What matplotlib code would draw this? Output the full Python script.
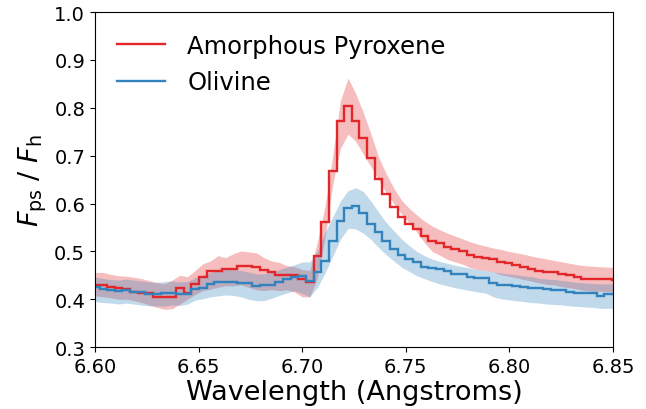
import numpy as np
import matplotlib
matplotlib.use("Agg")
import matplotlib.pyplot as plt

# ---- data ----
edge_start = 6.5985
bin_width = 0.00369
n_bins = 69

red_val = [0.430, 0.430, 0.425, 0.423, 0.421, 0.416, 0.414, 0.412, 0.405, 0.405,
           0.405, 0.423, 0.414, 0.432, 0.446, 0.460, 0.460, 0.464, 0.464, 0.470,
           0.470, 0.467, 0.462, 0.457, 0.450, 0.450, 0.450, 0.442, 0.437, 0.490,
           0.561, 0.668, 0.773, 0.804, 0.773, 0.736, 0.696, 0.651, 0.620, 0.592,
           0.571, 0.557, 0.547, 0.533, 0.522, 0.518, 0.510, 0.505, 0.500, 0.493,
           0.489, 0.487, 0.484, 0.478, 0.475, 0.472, 0.467, 0.464, 0.460, 0.457,
           0.456, 0.452, 0.450, 0.446, 0.443, 0.442, 0.443, 0.442, 0.441]
red_hi = [0.456, 0.456, 0.452, 0.449, 0.448, 0.446, 0.443, 0.439, 0.435, 0.432,
          0.440, 0.450, 0.447, 0.460, 0.474, 0.480, 0.491, 0.487, 0.495, 0.501,
          0.499, 0.497, 0.487, 0.480, 0.477, 0.470, 0.468, 0.462, 0.460, 0.520,
          0.595, 0.700, 0.815, 0.862, 0.830, 0.790, 0.745, 0.697, 0.662, 0.632,
          0.607, 0.590, 0.576, 0.563, 0.553, 0.545, 0.538, 0.532, 0.526, 0.520,
          0.515, 0.511, 0.507, 0.504, 0.500, 0.497, 0.494, 0.490, 0.487, 0.484,
          0.481, 0.478, 0.475, 0.472, 0.470, 0.469, 0.468, 0.467, 0.467]
red_lo = [0.407, 0.405, 0.403, 0.400, 0.400, 0.397, 0.393, 0.388, 0.383, 0.379,
          0.380, 0.390, 0.400, 0.410, 0.418, 0.421, 0.425, 0.428, 0.428, 0.430,
          0.425, 0.420, 0.418, 0.420, 0.418, 0.420, 0.415, 0.405, 0.405, 0.445,
          0.530, 0.640, 0.715, 0.745, 0.730, 0.703, 0.677, 0.650, 0.622, 0.600,
          0.578, 0.560, 0.540, 0.518, 0.500, 0.492, 0.483, 0.478, 0.473, 0.466,
          0.462, 0.460, 0.457, 0.451, 0.448, 0.445, 0.441, 0.438, 0.434, 0.431,
          0.430, 0.426, 0.424, 0.421, 0.418, 0.417, 0.417, 0.416, 0.415]

blue_val = [0.425, 0.421, 0.420, 0.418, 0.420, 0.416, 0.416, 0.411, 0.411, 0.414,
            0.414, 0.410, 0.410, 0.421, 0.423, 0.432, 0.435, 0.437, 0.437, 0.434,
            0.434, 0.427, 0.430, 0.430, 0.437, 0.442, 0.447, 0.449, 0.439, 0.456,
            0.480, 0.522, 0.564, 0.590, 0.595, 0.580, 0.557, 0.540, 0.522, 0.506,
            0.492, 0.484, 0.477, 0.467, 0.466, 0.463, 0.459, 0.453, 0.452, 0.447,
            0.445, 0.444, 0.433, 0.430, 0.430, 0.428, 0.425, 0.423, 0.424, 0.422,
            0.420, 0.419, 0.416, 0.414, 0.414, 0.413, 0.407, 0.410, 0.410]
blue_hi = [0.446, 0.443, 0.441, 0.440, 0.442, 0.440, 0.438, 0.436, 0.435, 0.437,
           0.438, 0.436, 0.437, 0.445, 0.450, 0.456, 0.460, 0.462, 0.462, 0.460,
           0.457, 0.453, 0.453, 0.457, 0.462, 0.467, 0.472, 0.478, 0.478, 0.500,
           0.540, 0.572, 0.605, 0.627, 0.633, 0.625, 0.605, 0.582, 0.560, 0.543,
           0.526, 0.512, 0.500, 0.491, 0.484, 0.479, 0.475, 0.471, 0.468, 0.465,
           0.462, 0.460, 0.457, 0.455, 0.453, 0.451, 0.449, 0.447, 0.444, 0.442,
           0.441, 0.439, 0.437, 0.435, 0.434, 0.433, 0.432, 0.432, 0.432]
blue_lo = [0.395, 0.393, 0.392, 0.390, 0.392, 0.390, 0.388, 0.386, 0.386, 0.386,
           0.388, 0.387, 0.390, 0.398, 0.401, 0.405, 0.407, 0.409, 0.408, 0.405,
           0.400, 0.397, 0.397, 0.402, 0.408, 0.413, 0.418, 0.412, 0.405, 0.425,
           0.455, 0.490, 0.525, 0.548, 0.547, 0.538, 0.525, 0.508, 0.493, 0.480,
           0.467, 0.458, 0.449, 0.443, 0.437, 0.432, 0.428, 0.424, 0.421, 0.418,
           0.415, 0.413, 0.405, 0.401, 0.399, 0.397, 0.395, 0.393, 0.392, 0.390,
           0.389, 0.388, 0.386, 0.385, 0.384, 0.383, 0.381, 0.381, 0.381]

labels = ["Amorphous Pyroxene", "Olivine"]
red_color = "#e3262a"
blue_color = "#3182bd"

# ---- plot ----
edges = edge_start + bin_width * np.arange(n_bins + 1)
centers = 0.5 * (edges[:-1] + edges[1:])

fig = plt.figure(figsize=(6.46, 4.10), dpi=100)
ax = fig.add_axes([0.147, 0.151, 0.802, 0.817])

ax.fill_between(centers, red_lo, red_hi, color=red_color, alpha=0.3, lw=0)
ax.fill_between(centers, blue_lo, blue_hi, color=blue_color, alpha=0.3, lw=0)
ax.stairs(red_val, edges, color=red_color, lw=1.7, label=labels[0])
ax.stairs(blue_val, edges, color=blue_color, lw=1.7, label=labels[1])

ax.set_xlim(6.60, 6.85)
ax.set_ylim(0.3, 1.0)
ax.set_xticks([6.60, 6.65, 6.70, 6.75, 6.80, 6.85])
ax.set_xticklabels(["6.60", "6.65", "6.70", "6.75", "6.80", "6.85"])
ax.set_yticks([0.3, 0.4, 0.5, 0.6, 0.7, 0.8, 0.9, 1.0])
ax.tick_params(labelsize=14)
ax.set_xlabel("Wavelength (Angstroms)", fontsize=19.5, labelpad=2)
ax.set_ylabel(r"$F_{\rm ps}$ / $F_{\rm h}$", fontsize=19.5)

ax.legend(loc="upper left", frameon=False, fontsize=17.5, handlelength=2.0,
          handletextpad=0.9)

fig.savefig("out.png", dpi=100)
